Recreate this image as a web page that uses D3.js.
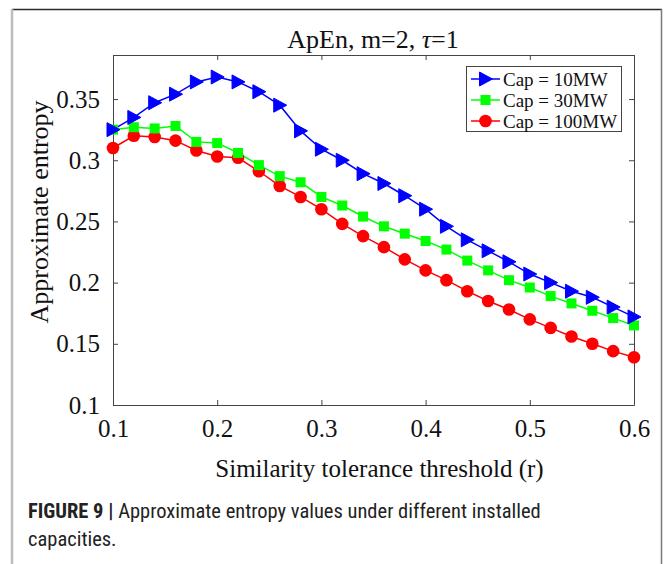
<!DOCTYPE html>
<html><head><meta charset="utf-8">
<script src="https://cdn.jsdelivr.net/npm/d3@7"></script>
<style>
body{margin:0;background:#fff;}
svg{display:block;}
</style></head>
<body>
<svg id="chart" width="664" height="564"></svg>
<script>
const xValues = [0.10,0.12,0.14,0.16,0.18,0.20,0.22,0.24,0.26,0.28,0.30,0.32,0.34,0.36,0.38,0.40,0.42,0.44,0.46,0.48,0.50,0.52,0.54,0.56,0.58,0.60];
const cap10 = [0.325,0.335,0.347,0.354,0.364,0.368,0.364,0.356,0.345,0.324,0.309,0.300,0.289,0.281,0.271,0.260,0.246,0.235,0.226,0.217,0.207,0.200,0.193,0.188,0.180,0.172];
const cap30 = [0.325,0.327,0.326,0.328,0.315,0.314,0.306,0.296,0.287,0.282,0.270,0.263,0.254,0.246,0.240,0.234,0.227,0.218,0.210,0.202,0.196,0.189,0.183,0.177,0.171,0.165];
const cap100 = [0.310,0.320,0.319,0.316,0.308,0.303,0.302,0.291,0.279,0.270,0.260,0.248,0.238,0.229,0.219,0.210,0.202,0.193,0.185,0.178,0.170,0.163,0.156,0.150,0.144,0.139];
const seriesNames = ["Cap = 10MW","Cap = 30MW","Cap = 100MW"];
const seriesColors = ["#0000ff","#00ff00","#ff0000"];
const xTicks = [0.1,0.2,0.3,0.4,0.5,0.6];
const xTickLabels = ["0.1","0.2","0.3","0.4","0.5","0.6"];
const yTicks = [0.1,0.15,0.2,0.25,0.3,0.35];
const yTickLabels = ["0.1","0.15","0.2","0.25","0.3","0.35"];
const titleText = "ApEn, m=2, ";
const xLabel = "Similarity tolerance threshold (r)";
const yLabel = "Approximate entropy";

const svg = d3.select("#chart");
const L = 113, R = 634, T = 55, B = 405;
const x = d3.scaleLinear().domain([0.1,0.6]).range([L,R]);
const y = d3.scaleLinear().domain([0.1,0.386]).range([B,T]);
const serif = "'Liberation Serif','Times New Roman',serif";
const capFont = "'Roboto Condensed','Liberation Sans Narrow','Liberation Sans',Arial,sans-serif";

// outer frame
svg.append("line").attr("x1",12).attr("x2",662).attr("y1",9.5).attr("y2",9.5).attr("stroke","#2a2a2a").attr("stroke-width",1.5);
svg.append("line").attr("x1",12).attr("x2",12).attr("y1",9).attr("y2",564).attr("stroke","#bdbdbd").attr("stroke-width",2.5);
svg.append("line").attr("x1",661.5).attr("x2",661.5).attr("y1",9).attr("y2",564).attr("stroke","#7a7a7a").attr("stroke-width",1.5);

// axes box
const tickLen = 5;
const axB = svg.append("g").attr("transform",`translate(0,${B})`)
  .call(d3.axisBottom(x).tickValues(xTicks).tickFormat((d,i)=>xTickLabels[i]).tickSizeInner(-tickLen).tickSizeOuter(0).tickPadding(14));
const axT = svg.append("g").attr("transform",`translate(0,${T})`)
  .call(d3.axisTop(x).tickValues(xTicks).tickFormat("").tickSizeInner(-tickLen).tickSizeOuter(0));
const axL = svg.append("g").attr("transform",`translate(${L},0)`)
  .call(d3.axisLeft(y).tickValues(yTicks).tickFormat((d,i)=>yTickLabels[i]).tickSizeInner(-tickLen).tickSizeOuter(0).tickPadding(13));
const axR = svg.append("g").attr("transform",`translate(${R},0)`)
  .call(d3.axisRight(y).tickValues(yTicks).tickFormat("").tickSizeInner(-tickLen).tickSizeOuter(0));
[axB,axT,axL,axR].forEach(g=>{
  g.select(".domain").attr("stroke","#444").attr("stroke-width",1);
  g.selectAll(".tick line").attr("stroke","#444").attr("stroke-width",1);
  g.selectAll(".tick text").attr("fill","#111").style("font-family",serif).style("font-size","25px");
});
axB.selectAll(".tick text").attr("dy","0.71em");

// lines & markers
const line = d3.line().x((d,i)=>x(xValues[i])).y(d=>y(d));
const allSeries = [cap10,cap30,cap100];
allSeries.forEach((s,k)=>{
  svg.append("path").datum(s).attr("d",line).attr("fill","none").attr("stroke",seriesColors[k]).attr("stroke-width",1.5);
});
function marker(g,k,cx,cy){
  const c = seriesColors[k];
  if(k===0){
    g.append("path").attr("d",`M${cx-6},${cy-7}L${cx+7},${cy}L${cx-6},${cy+7}Z`).attr("fill",c).attr("stroke",c).attr("stroke-width",1);
  } else if(k===1){
    g.append("rect").attr("x",cx-5).attr("y",cy-5).attr("width",10).attr("height",10).attr("fill",c);
  } else {
    g.append("circle").attr("cx",cx).attr("cy",cy).attr("r",6.3).attr("fill",c);
  }
}
const mg = svg.append("g");
[2,1,0].forEach(k=>{
  allSeries[k].forEach((v,i)=>marker(mg,k,x(xValues[i]),y(v)));
});

// legend
const lg = svg.append("g");
lg.append("rect").attr("x",466.5).attr("y",66.5).attr("width",155).attr("height",65).attr("fill","#fff").attr("stroke","#444").attr("stroke-width",1);
seriesNames.forEach((n,k)=>{
  const ly = 79 + k*21;
  lg.append("line").attr("x1",471).attr("x2",500).attr("y1",ly).attr("y2",ly).attr("stroke",seriesColors[k]).attr("stroke-width",1.5);
  marker(lg,k,485.5,ly);
  lg.append("text").attr("x",503).attr("y",ly).attr("dy","0.35em").text(n)
    .style("font-family",serif).style("font-size","19px").attr("fill","#111");
});

// title
const tt = svg.append("text").attr("x",373).attr("y",48).attr("text-anchor","middle")
  .style("font-family",serif).style("font-size","26px").attr("fill","#111");
tt.append("tspan").text(titleText);
tt.append("tspan").text("τ").style("font-style","italic");
tt.append("tspan").text("=1");

// axis labels
svg.append("text").attr("x",(L+R)/2+6).attr("y",477).attr("text-anchor","middle").text(xLabel)
  .style("font-family",serif).style("font-size","25px").attr("fill","#111");
svg.append("text").attr("transform",`translate(48,${212}) rotate(-90)`).attr("text-anchor","middle").text(yLabel)
  .style("font-family",serif).style("font-size","26px").attr("fill","#111");

// caption
const cap = svg.append("text").attr("x",28).attr("y",518)
  .style("font-family",capFont).style("font-size","20.5px").attr("fill","#222");
cap.append("tspan").text("FIGURE 9").style("font-weight","bold");
cap.append("tspan").text(" | ").style("font-weight","bold");
cap.append("tspan").text("Approximate entropy values under different installed");
svg.append("text").attr("x",28).attr("y",546).text("capacities.")
  .style("font-family",capFont).style("font-size","20.5px").attr("fill","#222");
</script>
</body></html>
